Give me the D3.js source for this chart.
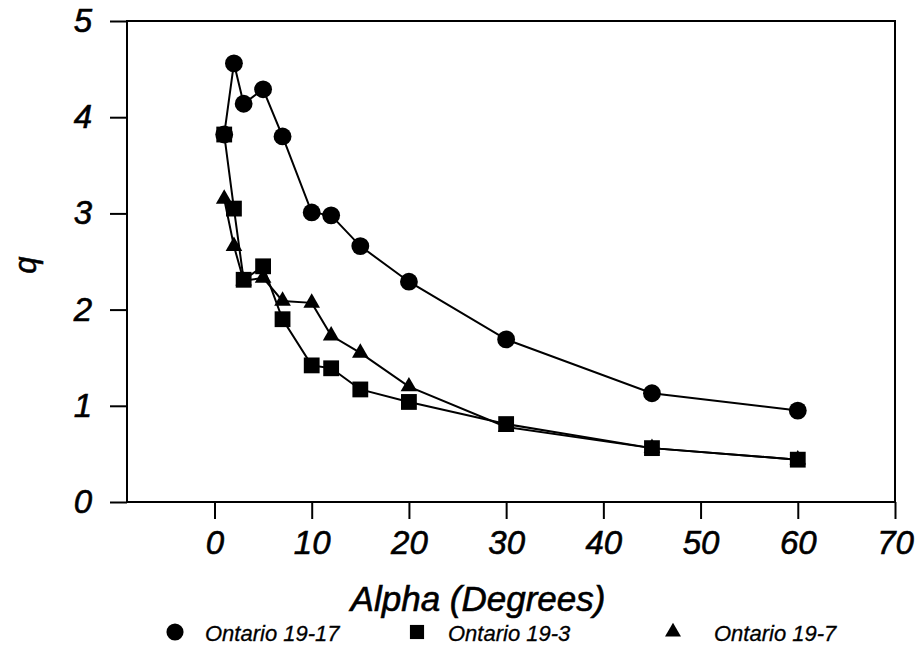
<!DOCTYPE html>
<html>
<head>
<meta charset="utf-8">
<script src="https://cdn.jsdelivr.net/npm/d3@7"></script>
<style>
  body { margin: 0; background: #fff; }
  svg { display: block; font-family: 'Liberation Sans', Arial, sans-serif; }
  .tick text { font-style: italic; font-size: 33px; fill: #000; stroke: #000; stroke-width: 0.6px; }
  .axis-name { font-style: italic; fill: #000; stroke: #000; stroke-width: 0.6px; }
  .legend-label { font-style: italic; font-size: 22px; fill: #000; stroke: #000; stroke-width: 0.3px; }
</style>
</head>
<body>
<div id="chart"></div>
<script>
// alpha values (degrees) for each series
const alpha1917 = [1, 2, 3, 5, 7, 10, 12, 15, 20, 30, 45, 60];
const q1917 = [3.82, 4.56, 4.14, 4.29, 3.8, 3.01, 2.98, 2.66, 2.29, 1.69, 1.13, 0.95];

const alpha193 = [1, 2, 3, 5, 7, 10, 12, 15, 20, 30, 45, 60];
const q193 = [3.82, 3.05, 2.31, 2.45, 1.9, 1.42, 1.39, 1.17, 1.04, 0.81, 0.56, 0.44];

const alpha197 = [1, 2, 3, 5, 7, 10, 12, 15, 20, 30, 45, 60];
const q197 = [3.15, 2.66, 2.3, 2.33, 2.09, 2.07, 1.73, 1.55, 1.2, 0.78, 0.56, 0.44];

const seriesNames = ['Ontario 19-17', 'Ontario 19-3', 'Ontario 19-7'];
const xTicks = [0, 10, 20, 30, 40, 50, 60, 70];
const yTicks = [0, 1, 2, 3, 4, 5];

const width = 923;
const height = 663;
const margin = {
  t: 21,
  r: 28,
  b: 161,
  l: 127,
};

const svg = d3
  .select('#chart')
  .append('svg')
  .attr('width', width)
  .attr('height', height);

const x = d3.scaleLinear().domain([-9, 70]).range([margin.l, width - margin.r]);
const y = d3.scaleLinear().domain([0, 5]).range([height - margin.b, margin.t]);

// frame
svg
  .append('rect')
  .attr('x', margin.l)
  .attr('y', margin.t)
  .attr('width', width - margin.r - margin.l)
  .attr('height', height - margin.b - margin.t)
  .style('fill', 'none')
  .style('stroke', '#000')
  .style('stroke-width', 2);

// X axis
const xAxis = svg
  .append('g')
  .attr('transform', `translate(0, ${height - margin.b})`)
  .call(
    d3.axisBottom(x).tickValues(xTicks).tickSize(17).tickSizeOuter(0).tickPadding(12).tickFormat(d3.format('d')),
  );
xAxis.select('.domain').remove();
xAxis.selectAll('.tick line').style('stroke-width', 2);

// Y axis
const yAxis = svg
  .append('g')
  .attr('transform', `translate(${margin.l}, 0)`)
  .call(
    d3.axisLeft(y).tickValues(yTicks).tickSize(17).tickSizeOuter(0).tickPadding(18).tickFormat(d3.format('d')),
  );
yAxis.select('.domain').remove();
yAxis.selectAll('.tick line').style('stroke-width', 2);

const series = [
  { name: seriesNames[0], symbol: d3.symbolCircle, size: 250, pts: d3.zip(alpha1917, q1917) },
  { name: seriesNames[2], symbol: d3.symbolTriangle, size: 120, pts: d3.zip(alpha197, q197) },
  { name: seriesNames[1], symbol: d3.symbolSquare, size: 250, pts: d3.zip(alpha193, q193) },
];

const line = d3
  .line()
  .x((d) => x(d[0]))
  .y((d) => y(d[1]));

svg
  .selectAll('.line')
  .data(series)
  .join('path')
  .attr('class', 'line')
  .attr('d', (d) => line(d.pts))
  .style('fill', 'none')
  .style('stroke', '#000')
  .style('stroke-width', 2);

series.forEach((s) => {
  svg
    .append('g')
    .selectAll('path')
    .data(s.pts)
    .join('path')
    .attr('transform', (d) => `translate(${x(d[0])}, ${y(d[1])})`)
    .attr('d', d3.symbol(s.symbol, s.size))
    .style('fill', '#000');
});

// x-axis name
svg
  .append('text')
  .attr('class', 'axis-name')
  .attr('x', 478)
  .attr('y', 611)
  .attr('text-anchor', 'middle')
  .style('font-size', '35px')
  .text('Alpha (Degrees)');

// y-axis name
svg
  .append('text')
  .attr('class', 'axis-name')
  .attr('transform', 'translate(36, 265) rotate(-90)')
  .attr('text-anchor', 'middle')
  .style('font-size', '31px')
  .text('q');

// LEGEND
const legendItems = [
  { name: seriesNames[0], symbol: d3.symbolCircle, size: 230, mx: 175, tx: 205 },
  { name: seriesNames[1], symbol: d3.symbolSquare, size: 200, mx: 417, tx: 448 },
  { name: seriesNames[2], symbol: d3.symbolTriangle, size: 110, mx: 673, tx: 714 },
];
const legend = svg.append('g').attr('id', 'legend');
legend
  .selectAll('path')
  .data(legendItems)
  .join('path')
  .attr('transform', (d) => `translate(${d.mx}, 632)`)
  .attr('d', (d) => d3.symbol(d.symbol, d.size)())
  .style('fill', '#000');
legend
  .selectAll('text')
  .data(legendItems)
  .join('text')
  .attr('class', 'legend-label')
  .attr('x', (d) => d.tx)
  .attr('y', 641)
  .text((d) => d.name);
</script>
</body>
</html>
